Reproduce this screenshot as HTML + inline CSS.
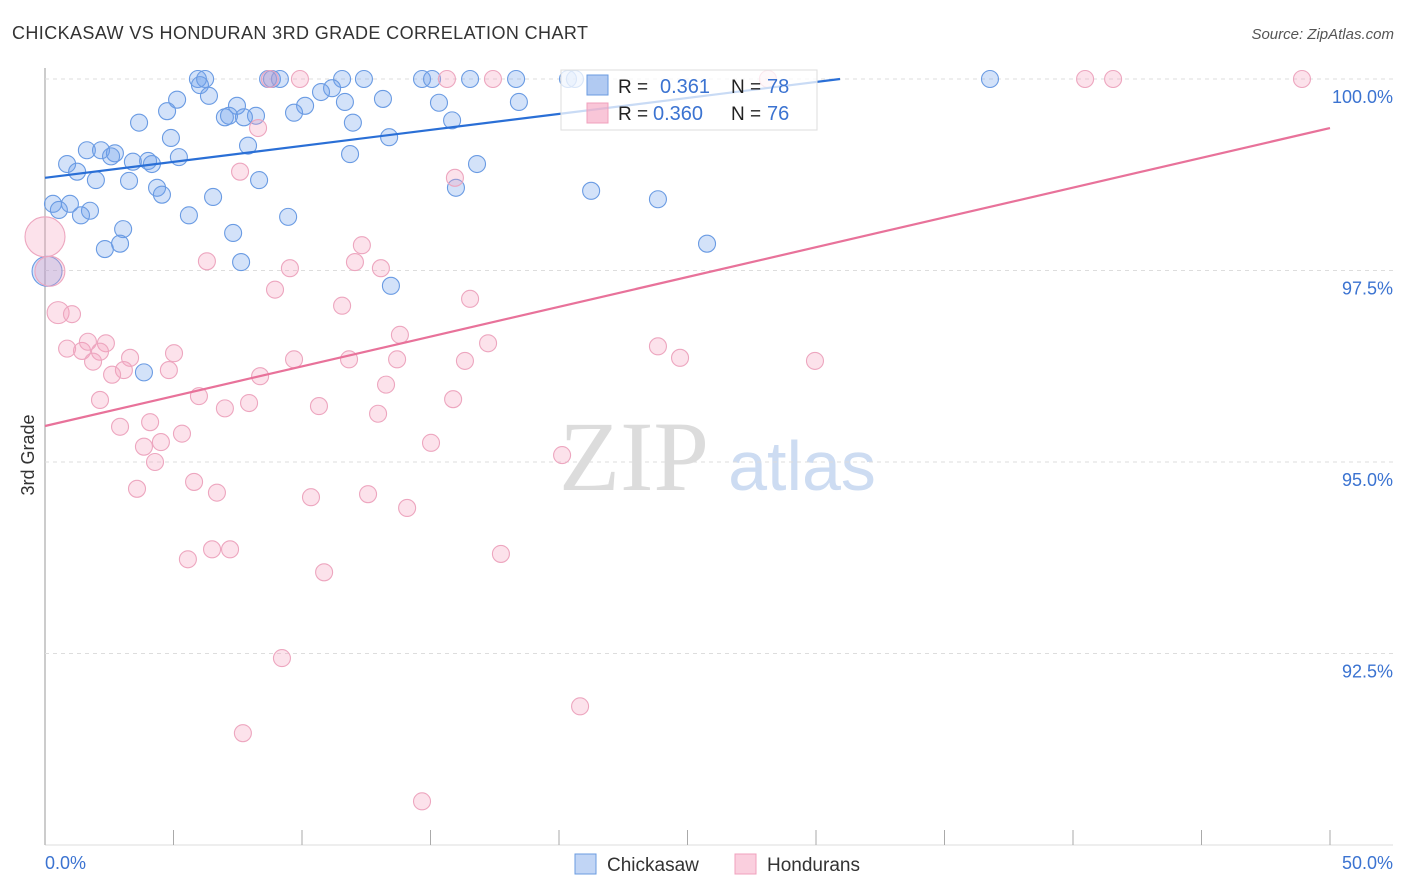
<!DOCTYPE html>
<html><head><meta charset="utf-8"><style>
body{margin:0;background:#fff;font-family:"Liberation Sans",sans-serif;}
#wrap{position:relative;width:1406px;height:892px;overflow:hidden;}
</style></head><body>
<div id="wrap">
<svg id="svg" width="1406" height="892" xmlns="http://www.w3.org/2000/svg">
<text x="12" y="39" font-size="18" fill="#333" letter-spacing="0.4">CHICKASAW VS HONDURAN 3RD GRADE CORRELATION CHART</text>
<text x="1394" y="39" font-size="15" fill="#555" font-style="italic" text-anchor="end">Source: ZipAtlas.com</text>
<text x="634" y="490" font-size="100" fill="#dcdcdc" text-anchor="middle" font-family="Liberation Serif,serif">ZIP</text>
<text x="802" y="490" font-size="70" fill="#cddcf2" text-anchor="middle">atlas</text>
<g id="grid"></g><g id="pts"></g><g id="lines"></g>
<text transform="translate(34,455) rotate(-90)" font-size="18" fill="#333" text-anchor="middle">3rd Grade</text>
<text x="45" y="869" font-size="18" fill="#3b73d1">0.0%</text>
<text x="1393" y="869" font-size="18" fill="#3b73d1" text-anchor="end">50.0%</text>
<g>
<rect x="561" y="70" width="256" height="60" fill="rgba(255,255,255,0.75)" stroke="#ddd"/>
<rect x="587" y="75" width="21" height="20" fill="rgba(100,150,230,0.5)" stroke="#6a9be0"/>
<rect x="587" y="103" width="21" height="20" fill="rgba(245,160,190,0.6)" stroke="#f0a0bd"/>
<text x="618" y="93" font-size="19" fill="#222">R = </text><text x="660" y="93" font-size="20" fill="#3b73d1">0.361</text>
<text x="731" y="93" font-size="19" fill="#222">N = </text><text x="767" y="93" font-size="20" fill="#3b73d1">78</text>
<text x="618" y="120" font-size="19" fill="#222">R = </text><text x="653" y="120" font-size="20" fill="#3b73d1">0.360</text>
<text x="731" y="120" font-size="19" fill="#222">N = </text><text x="767" y="120" font-size="20" fill="#3b73d1">76</text>
</g>
<g><rect x="575" y="854" width="21" height="20" fill="rgba(100,150,230,0.4)" stroke="#6a9be0"/><text x="607" y="871" font-size="19" fill="#333">Chickasaw</text></g>
<g><rect x="735" y="854" width="21" height="20" fill="rgba(245,160,190,0.5)" stroke="#f0a0bd"/><text x="767" y="871" font-size="19" fill="#333">Hondurans</text></g>
</svg></div>
<script>
const yTicks=[100,97.5,95,92.5];
const yTickLabels=["100.0%","97.5%","95.0%","92.5%"];
const xTicks=[0,5,10,15,20,25,30,35,40,45,50];
const blueX=[5.95,6.23,8.68,8.83,9.14,11.56,12.41,14.67,15.06,16.54,18.33,20.35,20.62,36.77,6.03,5.14,6.38,7.47,10.12,13.15,11.67,15.33,18.44,11.17,10.74,4.75,7.0,7.16,8.21,9.69,7.74,11.98,15.84,3.66,4.9,13.39,7.9,1.63,2.18,2.72,2.57,4.01,3.42,4.16,5.21,11.87,16.81,0.86,1.25,1.98,3.27,8.33,4.36,4.55,6.54,15.99,21.25,23.85,0.31,0.54,0.97,1.75,1.4,5.6,9.46,3.04,7.32,2.92,2.33,25.76,7.63,0.08,13.46,3.85];
const blueY=[100,100,100,100,100,100,100,100,100,100,100,100,100,100,99.92,99.73,99.78,99.65,99.65,99.74,99.7,99.69,99.7,99.88,99.83,99.58,99.5,99.52,99.52,99.56,99.5,99.43,99.46,99.43,99.23,99.24,99.13,99.07,99.07,99.03,98.99,98.93,98.92,98.89,98.98,99.02,98.89,98.89,98.79,98.68,98.67,98.68,98.58,98.49,98.46,98.58,98.54,98.43,98.37,98.29,98.37,98.28,98.22,98.22,98.2,98.04,97.99,97.85,97.78,97.85,97.61,97.49,97.3,96.17];
const blueR=blueX.map((v,i)=>i===71?15:8.5);
const pinkX=[8.75,9.92,15.64,17.43,28.13,40.47,41.56,48.91,8.29,7.59,15.95,0,0.19,12.33,6.3,12.06,9.53,13.07,8.95,16.54,11.56,0.51,1.05,13.81,0.86,1.44,2.37,1.67,17.24,23.85,24.71,29.96,3.31,2.14,9.69,11.83,13.7,16.34,1.87,3.07,2.61,4.82,5.02,8.37,13.27,5.99,7.94,2.14,7.0,10.66,12.96,15.88,4.09,2.92,5.33,3.85,4.51,15.02,4.28,20.12,3.58,5.8,6.69,10.35,12.57,14.09,5.56,6.5,7.2,10.86,17.74,9.22,20.82,7.7,14.67];
const pinkY=[100,100,100,100,100,100,100,100,99.36,98.79,98.71,97.94,97.49,97.83,97.62,97.61,97.53,97.53,97.25,97.13,97.04,96.95,96.93,96.66,96.48,96.45,96.55,96.57,96.55,96.51,96.36,96.32,96.36,96.44,96.34,96.34,96.34,96.32,96.31,96.2,96.14,96.2,96.42,96.12,96.01,95.86,95.77,95.81,95.7,95.73,95.63,95.82,95.52,95.46,95.37,95.2,95.26,95.25,95.0,95.09,94.65,94.74,94.6,94.54,94.58,94.4,93.73,93.86,93.86,93.56,93.8,92.44,91.81,91.46,90.57];
const pinkR=pinkX.map((v,i)=>i===11?20:(i===12?15:(i===21?11:8.5)));
const blueTrend=[98.71,0.0417];
const pinkTrend=[95.47,0.0778];
const X=v=>45+v*25.7, Y=v=>79+(100-v)*76.6;
const NS="http://www.w3.org/2000/svg";
function mk(tag,attrs,parent){const e=document.createElementNS(NS,tag);for(const k in attrs)e.setAttribute(k,attrs[k]);document.getElementById(parent).appendChild(e);return e;}
mk('line',{x1:45,y1:68,x2:45,y2:845,stroke:'#aaa','stroke-width':1.2},'grid');
mk('line',{x1:45,y1:845,x2:1393,y2:845,stroke:'#ddd','stroke-width':1},'grid');
yTicks.forEach((t,i)=>{
 const l=mk('line',{x1:45,y1:Y(t),x2:1393,y2:Y(t),stroke:'#ddd','stroke-dasharray':'4,4'},'grid');
 
 
 const tx=mk('text',{x:1393,y:Y(t)+24,'font-size':18,fill:'#3b73d1','text-anchor':'end'},'grid');
 tx.textContent=yTickLabels[i];
 
 
});
xTicks.forEach(t=>{
 const l=mk('line',{x1:X(t),y1:830,x2:X(t),y2:845,stroke:'#aaa'},'grid');
 
 
});
blueX.forEach((v,i)=>{
 const c=mk('circle',{cx:X(v),cy:Y(blueY[i]),r:blueR[i],fill:'rgba(110,160,235,0.3)',stroke:'#6a9be3','stroke-width':1.1},'pts');
 
 
});
pinkX.forEach((v,i)=>{
 const c=mk('circle',{cx:X(v),cy:Y(pinkY[i]),r:pinkR[i],fill:'rgba(245,160,190,0.3)',stroke:'#eda6bf','stroke-width':1.1},'pts');
 
 
});
const bx2=Math.min(50,(100-blueTrend[0])/blueTrend[1]);
const bl=mk('line',{x1:X(0),y1:Y(blueTrend[0]),x2:X(bx2),y2:Y(blueTrend[0]+blueTrend[1]*bx2),stroke:'#2a6fd6','stroke-width':2.2},'lines');


const pl=mk('line',{x1:X(0),y1:Y(pinkTrend[0]),x2:X(50),y2:Y(pinkTrend[0]+pinkTrend[1]*50),stroke:'#e8729a','stroke-width':2.2},'lines');


</script>
</body></html>
